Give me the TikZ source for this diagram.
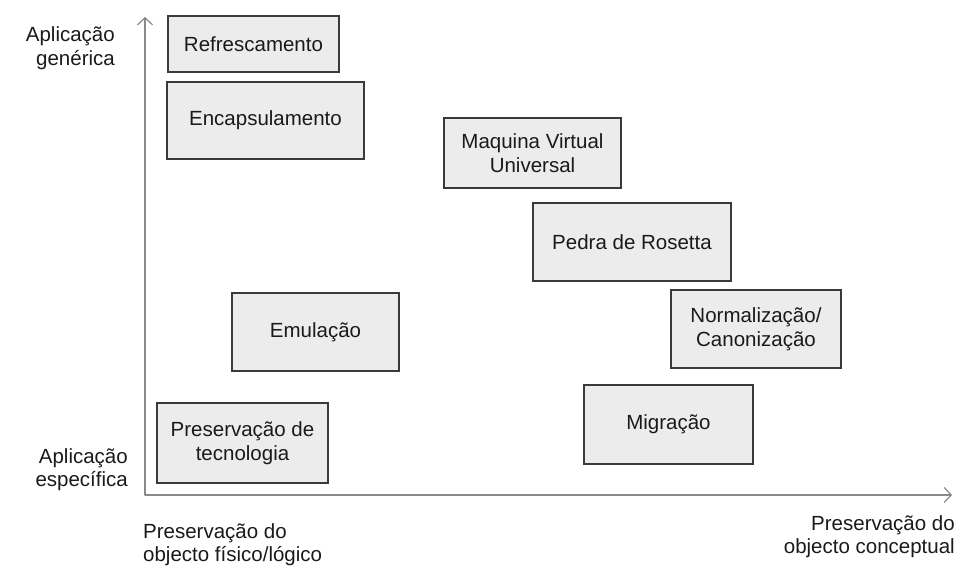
\documentclass[tikz,border=0pt]{standalone}
\usepackage{fontspec}
\setmainfont{Liberation Sans}
\usetikzlibrary{arrows.meta}
\definecolor{txtc}{HTML}{1A1A1A}
\definecolor{boxfill}{HTML}{ECECEC}
\definecolor{boxline}{HTML}{3A3A3A}
\definecolor{axisc}{HTML}{8A8A8A}
\tikzset{
  lbl/.style={font=\fontsize{20.5}{23.5}\selectfont, text=txtc, inner sep=0pt},
  stepbox/.style={lbl, draw=boxline, fill=boxfill, line width=1.3pt, align=center},
  axisline/.style={draw=axisc, line width=1.4pt, line join=round,
    arrows={Straight Barb[length=7pt,width=15pt,line width=1.2pt]-Straight Barb[length=7pt,width=15pt,line width=1.2pt]}}
}
\begin{document}
\begin{tikzpicture}[x=1pt,y=-1pt]
\useasboundingbox (0,0) rectangle (961,569);
% axes
\coordinate (ytop) at (145,17);
\coordinate (orig) at (145,495);
\coordinate (xend) at (952,495);
\draw[axisline] (ytop) -- (orig) -- (xend);
% boxes
\node[stepbox, minimum width=171pt, minimum height=56pt] (refr) at (253.5,44) {Refrescamento};
\node[stepbox, minimum width=197pt, minimum height=77pt] (encap) at (265.5,120.5) {Encapsulamento};
\node[stepbox, minimum width=177pt, minimum height=70pt] (maq) at (532.5,153) {Maquina Virtual\\Universal};
\node[stepbox, minimum width=198pt, minimum height=78pt] (pedra) at (632,242) {Pedra de Rosetta};
\node[stepbox, minimum width=167pt, minimum height=78pt] (emul) at (315.5,332) {Emulação};
\node[stepbox, minimum width=170pt, minimum height=78pt] (norm) at (756,329) {Normalização/\\Canonização};
\node[stepbox, minimum width=169pt, minimum height=79pt] (migr) at (668.5,424.5) {Migração};
\node[stepbox, minimum width=171pt, minimum height=80pt] (pres) at (242.5,443) {Preservação de\\tecnologia};
% axis labels (base anchor = baseline of the last line)
\node[lbl, align=right, anchor=base east] (gen) at (115,65.5) {Aplicação\\genérica};
\node[lbl, align=right, anchor=base east] (esp) at (128,486.5) {Aplicação\\específica};
\node[lbl, align=left, anchor=base west] (fis) at (143,561.5) {Preservação do\\objecto físico/lógico};
\node[lbl, align=right, anchor=base east] (conc) at (955,553.5) {Preservação do\\objecto conceptual};
\end{tikzpicture}
\end{document}
